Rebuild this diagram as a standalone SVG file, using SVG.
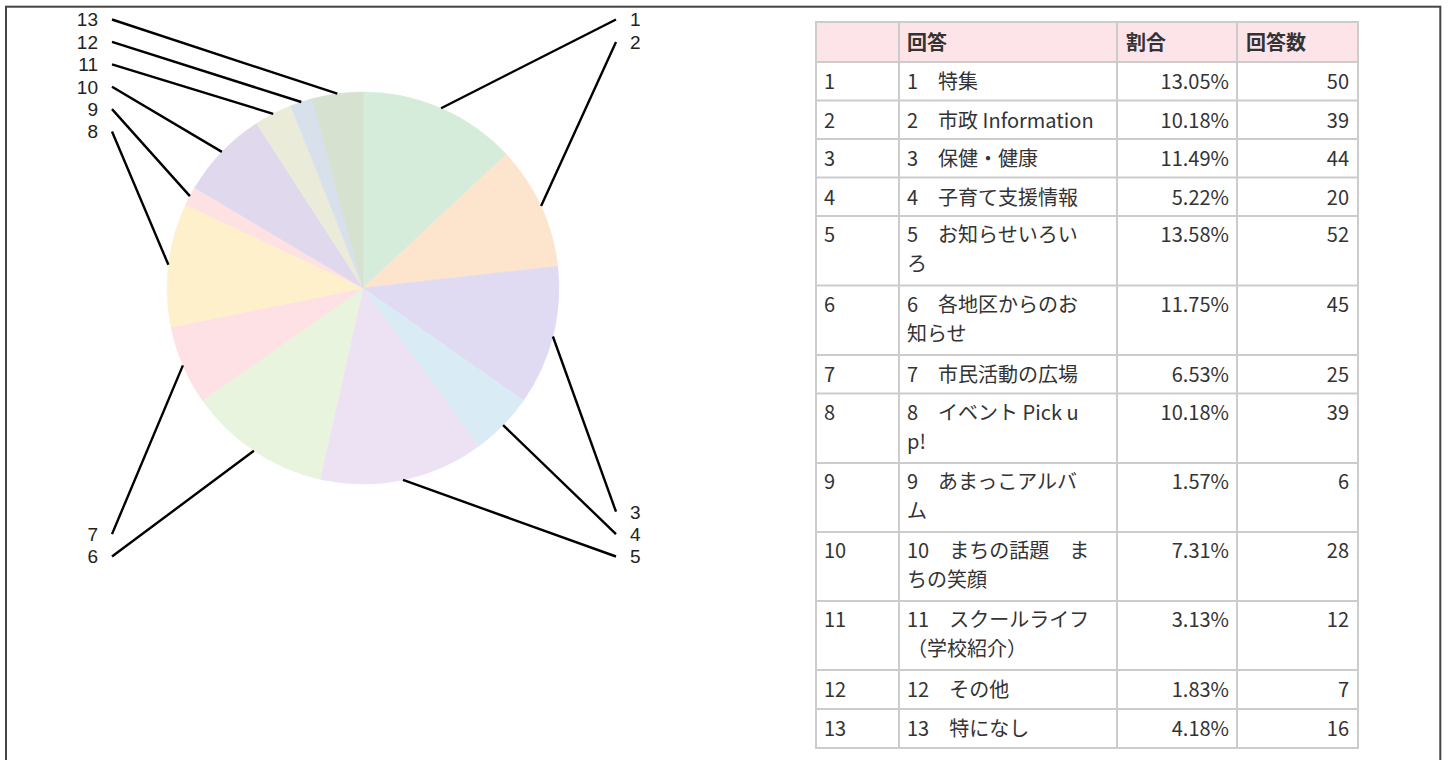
<svg xmlns="http://www.w3.org/2000/svg" width="1450" height="760" viewBox="0 0 1450 760">
<style>
  .lbl { font-family: "Liberation Sans", "Noto Sans", sans-serif; font-size: 19px; fill: #222; }
  .lead { stroke: #000; stroke-width: 2.4; fill: none; stroke-linecap: butt; }
  .td { font-family: "Noto Sans CJK JP", "Noto Sans", sans-serif; font-size: 20px; fill: #333; }
  .th { font-family: "Noto Sans CJK JP", "Noto Sans", sans-serif; font-size: 20px; fill: #333; font-weight: bold; }
  .num { text-anchor: end; }
  .grid { stroke: #cccccc; stroke-width: 2; fill: none; }
</style>
<rect x="0" y="0" width="1450" height="760" fill="#ffffff"/>
<rect id="frame" x="6" y="6.7" width="1434.3" height="800" fill="none" stroke="#444444" stroke-width="2"/>

<g id="pie">
  <path id="slice1" d="M363,288 L363,92 A196,196 0 0 1 506.3,154.3 Z" fill="#d5ecdb" stroke="#d5ecdb" stroke-width="0.5"/>
  <path id="slice2" d="M363,288 L506.3,154.3 A196,196 0 0 1 557.79,266.25 Z" fill="#fde4cd" stroke="#fde4cd" stroke-width="0.5"/>
  <path id="slice3" d="M363,288 L557.79,266.25 A196,196 0 0 1 523.55,400.42 Z" fill="#e0dbf3" stroke="#e0dbf3" stroke-width="0.5"/>
  <path id="slice4" d="M363,288 L523.55,400.42 A196,196 0 0 1 478.8,446.13 Z" fill="#d9ebf4" stroke="#d9ebf4" stroke-width="0.5"/>
  <path id="slice5" d="M363,288 L478.8,446.13 A196,196 0 0 1 320,479.23 Z" fill="#ede2f3" stroke="#ede2f3" stroke-width="0.5"/>
  <path id="slice6" d="M363,288 L320,479.23 A196,196 0 0 1 202.5,400.5 Z" fill="#e8f4de" stroke="#e8f4de" stroke-width="0.5"/>
  <path id="slice7" d="M363,288 L202.5,400.5 A196,196 0 0 1 170.95,327.14 Z" fill="#fee1e4" stroke="#fee1e4" stroke-width="0.5"/>
  <path id="slice8" d="M363,288 L170.95,327.14 A196,196 0 0 1 185.55,204.77 Z" fill="#fff0cc" stroke="#fff0cc" stroke-width="0.5"/>
  <path id="slice9" d="M363,288 L185.55,204.77 A196,196 0 0 1 194.61,187.68 Z" fill="#fde1e3" stroke="#fde1e3" stroke-width="0.5"/>
  <path id="slice10" d="M363,288 L194.61,187.68 A196,196 0 0 1 256.52,123.45 Z" fill="#e0d8ec" stroke="#e0d8ec" stroke-width="0.5"/>
  <path id="slice11" d="M363,288 L256.52,123.45 A196,196 0 0 1 290.74,105.81 Z" fill="#ebebd9" stroke="#ebebd9" stroke-width="0.5"/>
  <path id="slice12" d="M363,288 L290.74,105.81 A196,196 0 0 1 312.11,98.72 Z" fill="#d7e0eb" stroke="#d7e0eb" stroke-width="0.5"/>
  <path id="slice13" d="M363,288 L312.11,98.72 A196,196 0 0 1 363,92 Z" fill="#d7e1d0" stroke="#d7e1d0" stroke-width="0.5"/>
</g>

<g id="connectors">
  <line class="lead" x1="441.1" y1="108.2" x2="616" y2="19.5"/>
  <line class="lead" x1="541.1" y1="206.1" x2="616" y2="42"/>
  <line class="lead" x1="552.9" y1="336.5" x2="616" y2="511.7"/>
  <line class="lead" x1="503.1" y1="425.1" x2="616" y2="534.1"/>
  <line class="lead" x1="403" y1="479.9" x2="616" y2="556.5"/>
  <line class="lead" x1="253.9" y1="450.8" x2="112" y2="556.5"/>
  <line class="lead" x1="182.9" y1="365.4" x2="112" y2="534.1"/>
  <line class="lead" x1="168.4" y1="264.8" x2="112" y2="131.5"/>
  <line class="lead" x1="189.9" y1="196.1" x2="112" y2="109.1"/>
  <line class="lead" x1="221.9" y1="151.9" x2="112" y2="86.7"/>
  <line class="lead" x1="273.2" y1="113.8" x2="112" y2="64.3"/>
  <line class="lead" x1="301.3" y1="102" x2="112" y2="41.9"/>
  <line class="lead" x1="337.3" y1="93.7" x2="112" y2="19.5"/>
</g>

<g id="labels">
  <text class="lbl" x="630" y="26.3">1</text>
  <text class="lbl" x="630" y="48.8">2</text>
  <text class="lbl" x="630" y="518.5">3</text>
  <text class="lbl" x="630" y="540.9">4</text>
  <text class="lbl" x="630" y="563.3">5</text>
  <text class="lbl" x="98" y="563.3" text-anchor="end">6</text>
  <text class="lbl" x="98" y="540.9" text-anchor="end">7</text>
  <text class="lbl" x="98" y="138.3" text-anchor="end">8</text>
  <text class="lbl" x="98" y="115.9" text-anchor="end">9</text>
  <text class="lbl" x="98" y="93.5" text-anchor="end">10</text>
  <text class="lbl" x="98" y="71.1" text-anchor="end">11</text>
  <text class="lbl" x="98" y="48.7" text-anchor="end">12</text>
  <text class="lbl" x="98" y="26.3" text-anchor="end">13</text>
</g>

<g id="table">
  <rect x="816" y="22" width="542" height="40" fill="#fde4e8"/>
  <g class="grid">
    <rect x="816" y="22" width="542" height="726"/>
    <line x1="899" y1="22" x2="899" y2="748"/>
    <line x1="1117" y1="22" x2="1117" y2="748"/>
    <line x1="1237" y1="22" x2="1237" y2="748"/>
    <line x1="816" y1="62" x2="1358" y2="62"/>
    <line x1="816" y1="100.5" x2="1358" y2="100.5"/>
    <line x1="816" y1="139" x2="1358" y2="139"/>
    <line x1="816" y1="177.5" x2="1358" y2="177.5"/>
    <line x1="816" y1="216" x2="1358" y2="216"/>
    <line x1="816" y1="285.5" x2="1358" y2="285.5"/>
    <line x1="816" y1="355" x2="1358" y2="355"/>
    <line x1="816" y1="393.5" x2="1358" y2="393.5"/>
    <line x1="816" y1="463" x2="1358" y2="463"/>
    <line x1="816" y1="532" x2="1358" y2="532"/>
    <line x1="816" y1="601" x2="1358" y2="601"/>
    <line x1="816" y1="670" x2="1358" y2="670"/>
    <line x1="816" y1="709" x2="1358" y2="709"/>
  </g>
  <g id="header">
    <text class="th" x="907" y="49.5">回答</text>
    <text class="th" x="1126" y="49.5">割合</text>
    <text class="th" x="1246" y="49.5">回答数</text>
  </g>
  <g id="row1">
    <text class="td" x="824" y="89">1</text>
    <text class="td" x="907" y="89">1　特集</text>
    <text class="td num" x="1229" y="89">13.05%</text>
    <text class="td num" x="1349" y="89">50</text>
  </g>
  <g id="row2">
    <text class="td" x="824" y="127.5">2</text>
    <text class="td" x="907" y="127.5">2　市政 Information</text>
    <text class="td num" x="1229" y="127.5">10.18%</text>
    <text class="td num" x="1349" y="127.5">39</text>
  </g>
  <g id="row3">
    <text class="td" x="824" y="166">3</text>
    <text class="td" x="907" y="166">3　保健・健康</text>
    <text class="td num" x="1229" y="166">11.49%</text>
    <text class="td num" x="1349" y="166">44</text>
  </g>
  <g id="row4">
    <text class="td" x="824" y="204.5">4</text>
    <text class="td" x="907" y="204.5">4　子育て支援情報</text>
    <text class="td num" x="1229" y="204.5">5.22%</text>
    <text class="td num" x="1349" y="204.5">20</text>
  </g>
  <g id="row5">
    <text class="td" x="824" y="242">5</text>
    <text class="td" x="907" y="242"><tspan x="907" y="242">5　お知らせいろい</tspan><tspan x="907" y="271">ろ</tspan></text>
    <text class="td num" x="1229" y="242">13.58%</text>
    <text class="td num" x="1349" y="242">52</text>
  </g>
  <g id="row6">
    <text class="td" x="824" y="311.5">6</text>
    <text class="td" x="907" y="311.5"><tspan x="907" y="311.5">6　各地区からのお</tspan><tspan x="907" y="340.5">知らせ</tspan></text>
    <text class="td num" x="1229" y="311.5">11.75%</text>
    <text class="td num" x="1349" y="311.5">45</text>
  </g>
  <g id="row7">
    <text class="td" x="824" y="382">7</text>
    <text class="td" x="907" y="382">7　市民活動の広場</text>
    <text class="td num" x="1229" y="382">6.53%</text>
    <text class="td num" x="1349" y="382">25</text>
  </g>
  <g id="row8">
    <text class="td" x="824" y="419.5">8</text>
    <text class="td" x="907" y="419.5"><tspan x="907" y="419.5">8　イベント Pick u</tspan><tspan x="907" y="448.5">p!</tspan></text>
    <text class="td num" x="1229" y="419.5">10.18%</text>
    <text class="td num" x="1349" y="419.5">39</text>
  </g>
  <g id="row9">
    <text class="td" x="824" y="489">9</text>
    <text class="td" x="907" y="489"><tspan x="907" y="489">9　あまっこアルバ</tspan><tspan x="907" y="518">ム</tspan></text>
    <text class="td num" x="1229" y="489">1.57%</text>
    <text class="td num" x="1349" y="489">6</text>
  </g>
  <g id="row10">
    <text class="td" x="824" y="558">10</text>
    <text class="td" x="907" y="558"><tspan x="907" y="558">10　まちの話題　ま</tspan><tspan x="907" y="587">ちの笑顔</tspan></text>
    <text class="td num" x="1229" y="558">7.31%</text>
    <text class="td num" x="1349" y="558">28</text>
  </g>
  <g id="row11">
    <text class="td" x="824" y="627">11</text>
    <text class="td" x="907" y="627"><tspan x="907" y="627">11　スクールライフ</tspan><tspan x="907" y="656">（学校紹介）</tspan></text>
    <text class="td num" x="1229" y="627">3.13%</text>
    <text class="td num" x="1349" y="627">12</text>
  </g>
  <g id="row12">
    <text class="td" x="824" y="697">12</text>
    <text class="td" x="907" y="697">12　その他</text>
    <text class="td num" x="1229" y="697">1.83%</text>
    <text class="td num" x="1349" y="697">7</text>
  </g>
  <g id="row13">
    <text class="td" x="824" y="736">13</text>
    <text class="td" x="907" y="736">13　特になし</text>
    <text class="td num" x="1229" y="736">4.18%</text>
    <text class="td num" x="1349" y="736">16</text>
  </g>
</g>
</svg>
